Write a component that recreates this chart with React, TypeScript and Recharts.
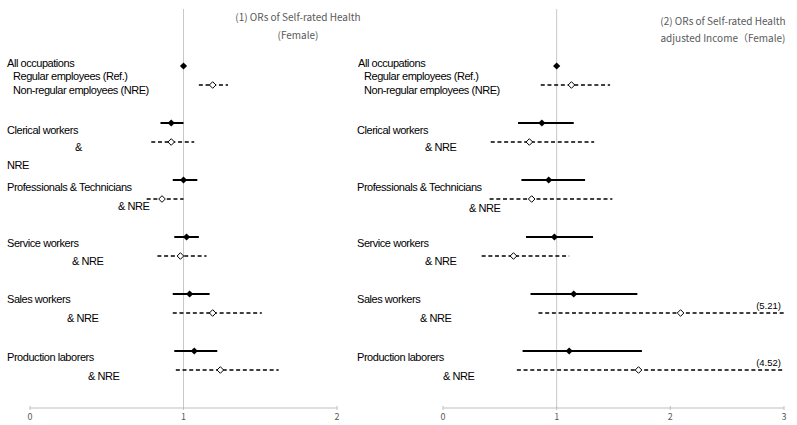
import { ScatterChart, Scatter, XAxis, YAxis, ReferenceLine } from 'recharts';

// row groups, top to bottom
const groups = [
  'All occupations',
  'Clerical workers',
  'Professionals & Technicians',
  'Service workers',
  'Sales workers',
  'Production laborers',
];

// (1) ORs of Self-rated Health (Female)
const refOR1 = [1.0, 0.92, 1.0, 1.02, 1.04, 1.07];
const refLo1 = [null, 0.85, 0.93, 0.94, 0.93, 0.94];
const refHi1 = [null, 1.0, 1.09, 1.1, 1.17, 1.22];
const nreOR1 = [1.19, 0.92, 0.86, 0.98, 1.19, 1.24];
const nreLo1 = [1.1, 0.79, 0.76, 0.83, 0.93, 0.95];
const nreHi1 = [1.29, 1.07, 1.0, 1.15, 1.51, 1.62];

// (2) ORs of Self-rated Health adjusted Income (Female)
const refOR2 = [1.0, 0.87, 0.93, 0.98, 1.15, 1.11];
const refLo2 = [null, 0.66, 0.69, 0.73, 0.77, 0.7];
const refHi2 = [null, 1.15, 1.25, 1.32, 1.71, 1.75];
const nreOR2 = [1.13, 0.76, 0.78, 0.62, 2.09, 1.72];
const nreLo2 = [0.86, 0.42, 0.41, 0.34, 0.84, 0.65];
const nreHi2 = [1.47, 1.33, 1.49, 1.11, 5.21, 4.52];

const ticks1 = [0, 1, 2];
const ticks2 = [0, 1, 2, 3];

const titles1 = ['(1) ORs of Self-rated Health', '(Female)'];
const titles2 = ['(2) ORs of Self-rated Health', 'adjusted Income（Female)'];

// row slots: each group takes 3 slots (Ref, NRE, gap)
const rowOf = (g: number, nre: boolean) => g * 3 + (nre ? 1 : 0);

type Pt = { x: number; y: number; label?: string };

function buildPanel(
  refOR: number[],
  refLo: (number | null)[],
  refHi: (number | null)[],
  nreOR: number[],
  nreLo: number[],
  nreHi: number[],
  xMax: number
) {
  const refPts: Pt[] = refOR.map((v, i) => ({ x: v, y: rowOf(i, false) }));
  const nrePts: Pt[] = nreOR.map((v, i) => ({ x: v, y: rowOf(i, true) }));
  const refCI: Pt[][] = [];
  refLo.forEach((lo, i) => {
    const hi = refHi[i];
    if (lo == null || hi == null) return;
    refCI.push([
      { x: lo, y: rowOf(i, false) },
      { x: Math.min(hi, xMax), y: rowOf(i, false) },
    ]);
  });
  const nreCI: Pt[][] = nreLo.map((lo, i) => [
    { x: lo, y: rowOf(i, true) },
    { x: Math.min(nreHi[i], xMax), y: rowOf(i, true) },
  ]);
  const overflow: Pt[] = [];
  nreHi.forEach((hi, i) => {
    if (hi > xMax) overflow.push({ x: xMax, y: rowOf(i, true), label: `(${hi.toFixed(2)})` });
  });
  return { refPts, nrePts, refCI, nreCI, overflow };
}

const FilledDiamond = (p: any) => {
  const { cx, cy } = p;
  const s = 3.6;
  return <path d={`M${cx},${cy - s}L${cx + s},${cy}L${cx},${cy + s}L${cx - s},${cy}Z`} fill="#000" />;
};
const OpenDiamond = (p: any) => {
  const { cx, cy } = p;
  const s = 3.3;
  return (
    <path
      d={`M${cx},${cy - s}L${cx + s},${cy}L${cx},${cy + s}L${cx - s},${cy}Z`}
      fill="#fff"
      stroke="#000"
      strokeWidth={1}
    />
  );
};
const NoDot = () => <g />;
const OverflowLabel = (p: any) => (
  <text
    x={p.cx - 3}
    y={p.cy - 4}
    textAnchor="end"
    fontSize={9.5}
    fontFamily="'Liberation Sans', Arial, sans-serif"
    fill="#000"
  >
    {p.payload.label}
  </text>
);

const AxisTick = (p: any) => {
  const { x, y, payload } = p;
  return (
    <g>
      <line x1={x} x2={x} y1={y - 4} y2={y - 8} stroke="#bfbfbf" />
      <text
        x={x}
        y={y + 6}
        textAnchor="middle"
        fontSize={9}
        fontFamily="'Noto Sans CJK JP', sans-serif"
        fill="#595959"
      >
        {payload.value}
      </text>
    </g>
  );
};

function Panel({
  data,
  xMax,
  ticks,
  width,
  margin,
}: {
  data: ReturnType<typeof buildPanel>;
  xMax: number;
  ticks: number[];
  width: number;
  margin: { top: number; right: number; left: number; bottom: number };
}) {
  return (
    <ScatterChart width={width} height={425} margin={margin}>
      <XAxis
        type="number"
        dataKey="x"
        domain={[0, xMax]}
        ticks={ticks}
        height={17}
        axisLine={{ stroke: '#bfbfbf' }}
        tickLine={false}
        tickSize={4}
        tick={<AxisTick />}
      />
      <YAxis type="number" dataKey="y" domain={[-3, 18]} reversed hide />
      <ReferenceLine x={1} stroke="#c8c8c8" strokeWidth={1} />
      {data.refCI.map((seg, i) => (
        <Scatter
          key={`r${i}`}
          data={seg}
          line={{ stroke: '#000', strokeWidth: 2 }}
          shape={NoDot}
          isAnimationActive={false}
        />
      ))}
      {data.nreCI.map((seg, i) => (
        <Scatter
          key={`n${i}`}
          data={seg}
          line={{ stroke: '#000', strokeWidth: 1.7, strokeDasharray: '4 2.7' }}
          shape={NoDot}
          isAnimationActive={false}
        />
      ))}
      <Scatter data={data.refPts} shape={FilledDiamond} isAnimationActive={false} />
      <Scatter data={data.nrePts} shape={OpenDiamond} isAnimationActive={false} />
      <Scatter data={data.overflow} shape={OverflowLabel} isAnimationActive={false} />
    </ScatterChart>
  );
}

// label layout [text, x, y] for each panel
const rowTexts = [
  groups[0],
  'Regular employees (Ref.)',
  'Non-regular employees (NRE)',
  groups[1],
  '&',
  'NRE',
  groups[2],
  '& NRE',
  groups[3],
  '& NRE',
  groups[4],
  '& NRE',
  groups[5],
  '& NRE',
];
const leftPos = [
  [7, 63], [13, 76], [13, 90], [7, 130], [75, 147], [7, 165], [7, 187],
  [118, 206], [7, 243], [72, 261], [7, 299], [67, 318], [7, 357], [88, 376],
];
const rightPos = [
  [358, 63], [364, 76], [364, 90], [357, 130], [425, 147], [-1, 0], [357, 187],
  [469, 208], [357, 243], [425, 261], [357, 299], [420, 318], [357, 357], [443, 376],
];
const rightTexts = rowTexts.map((t, i) => (i === 4 ? '& NRE' : t));

const panel1 = buildPanel(refOR1, refLo1, refHi1, nreOR1, nreLo1, nreHi1, 2);
const panel2 = buildPanel(refOR2, refLo2, refHi2, nreOR2, nreLo2, nreHi2, 3);

export default function App() {
  const labelStyle = {
    fontFamily: "'Liberation Sans', Arial, sans-serif",
    fontSize: 11,
    letterSpacing: -0.45,
    fill: '#000',
  };
  const titleStyle = {
    fontFamily: "'Noto Sans CJK JP', sans-serif",
    fontSize: 10,
    fill: '#595959',
  };
  return (
    <div style={{ position: 'absolute', left: 0, top: 0, width: 797, height: 425, background: '#fff' }}>
      <div style={{ position: 'absolute', left: 0, top: 0 }}>
        <Panel data={panel1} xMax={2} ticks={ticks1} width={397} margin={{ top: 9, right: 60, left: 30, bottom: 0 }} />
      </div>
      <div style={{ position: 'absolute', left: 397, top: 0 }}>
        <Panel data={panel2} xMax={3} ticks={ticks2} width={400} margin={{ top: 9, right: 13, left: 46, bottom: 0 }} />
      </div>
      <svg width={797} height={425} style={{ position: 'absolute', left: 0, top: 0, pointerEvents: 'none' }}>
        {rowTexts.map((t, i) => (
          <text key={`l${i}`} x={leftPos[i][0]} y={leftPos[i][1]} dominantBaseline="central" style={labelStyle}>
            {t}
          </text>
        ))}
        {rightTexts.map((t, i) =>
          rightPos[i][0] < 0 ? null : (
            <text key={`r${i}`} x={rightPos[i][0]} y={rightPos[i][1]} dominantBaseline="central" style={labelStyle}>
              {t}
            </text>
          )
        )}
        {titles1.map((t, i) => (
          <text key={`t1${i}`} x={298} y={16 + i * 18} textAnchor="middle" dominantBaseline="central" style={titleStyle}>
            {t}
          </text>
        ))}
        {titles2.map((t, i) => (
          <text key={`t2${i}`} x={723} y={20 + i * 17} textAnchor="middle" dominantBaseline="central" style={titleStyle}>
            {t}
          </text>
        ))}
      </svg>
    </div>
  );
}
